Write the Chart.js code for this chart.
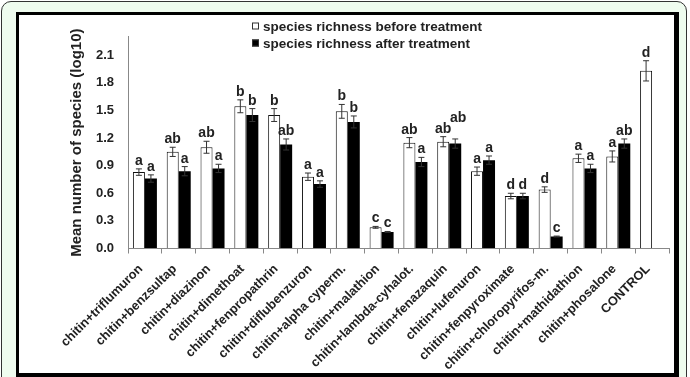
<!DOCTYPE html>
<html>
<head>
<meta charset="utf-8">
<script src="https://cdn.jsdelivr.net/npm/chart.js@4.4.0/dist/chart.umd.min.js"></script>
<style>
  html, body { margin: 0; padding: 0; background: #fff; overflow: hidden; }
  #frame {
    position: absolute; left: 1px; top: 1px; width: 684px; height: 420px;
    border: 1.5px solid #333; border-radius: 10px; background: #effcef;
  }
  #box {
    position: absolute; left: 16px; top: 12px; width: 655px; height: 358px;
    border: 3px solid #000; border-right-width: 5px; border-bottom-width: 4px;
    background: #fff;
  }
  canvas { display: block; }
</style>
</head>
<body>
<div id="frame"></div>
<div id="box"><canvas id="richChart" width="655" height="358"></canvas></div>
<script>
const categories = [
  'chitin+triflumuron', 'chitin+benzsultap', 'chitin+diazinon', 'chitin+dimethoat',
  'chitin+fenpropathrin', 'chitin+diflubenzuron', 'chitin+alpha cyperm.', 'chitin+malathion',
  'chitin+lambda-cyhalot.', 'chitin+fenazaquin', 'chitin+lufenuron', 'chitin+fenpyroximate',
  'chitin+chloropyrifos-m.', 'chitin+mathidathion', 'chitin+phosalone', 'CONTROL'
];
const richnessBefore = [0.83, 1.05, 1.10, 1.545, 1.45, 0.78, 1.49, 0.23, 1.15, 1.16, 0.84, 0.57, 0.64, 0.98, 1.00, 1.93];
const richnessAfter  = [0.76, 0.84, 0.87, 1.45, 1.13, 0.70, 1.375, 0.18, 0.94, 1.14, 0.96, 0.57, 0.13, 0.87, 1.14, null];
const errBefore = [0.035, 0.05, 0.065, 0.07, 0.07, 0.04, 0.075, 0.01, 0.055, 0.055, 0.045, 0.03, 0.03, 0.045, 0.06, 0.11];
const errAfter  = [0.04, 0.05, 0.045, 0.07, 0.06, 0.035, 0.065, 0.005, 0.05, 0.05, 0.045, 0.03, 0.005, 0.045, 0.05, null];
const lettersBefore = ['a', 'ab', 'ab', 'b', 'b', 'a', 'b', 'c', 'ab', 'ab', 'a', 'd', 'd', 'a', 'a', 'd'];
const lettersAfter  = ['a', 'a', 'a', 'b', 'ab', 'a', 'b', 'c', 'a', 'ab', 'a', 'd', 'c', 'a', 'ab', ''];
const yTicks = [0, 0.3, 0.6, 0.9, 1.2, 1.5, 1.8, 2.1];

const FONT = 'Liberation Sans, Arial, sans-serif';
const TEXT = '#222';

// error bars + significance letters above each bar
const errorLetters = {
  id: 'errorLetters',
  afterDatasetsDraw(chart) {
    const ctx = chart.ctx;
    const y = chart.scales.y;
    const errs = [errBefore, errAfter];
    const boxes = [[], []];
    ctx.save();
    chart.data.datasets.forEach((ds, d) => {
      const meta = chart.getDatasetMeta(d);
      meta.data.forEach((bar, i) => {
        const v = ds.data[i];
        if (v == null) return;
        const e = errs[d][i] || 0;
        const top = y.getPixelForValue(v + e);
        const bot = y.getPixelForValue(v - e);
        ctx.strokeStyle = '#333';
        ctx.lineWidth = 1;
        ctx.beginPath();
        ctx.moveTo(bar.x, top); ctx.lineTo(bar.x, bot);
        ctx.moveTo(bar.x - 3, top); ctx.lineTo(bar.x + 3, top);
        ctx.moveTo(bar.x - 3, bot); ctx.lineTo(bar.x + 3, bot);
        ctx.stroke();
        boxes[d][i] = { x: bar.x, base: top - 4 };
      });
    });
    ctx.font = 'bold 14px ' + FONT;
    ctx.fillStyle = TEXT;
    ctx.textAlign = 'center';
    ctx.textBaseline = 'alphabetic';
    categories.forEach((c, i) => {
      const b = boxes[0][i], a = boxes[1][i];
      if (b && lettersBefore[i]) ctx.fillText(lettersBefore[i], b.x, b.base);
      if (a && lettersAfter[i]) {
        let base = a.base;
        if (b) {
          const wb = ctx.measureText(lettersBefore[i]).width;
          const wa = ctx.measureText(lettersAfter[i]).width;
          const overlapX = (a.x - wa / 2) < (b.x + wb / 2);
          if (overlapX && Math.abs(base - b.base) < 10) base = b.base - 11;
        }
        ctx.fillText(lettersAfter[i], a.x + (base !== a.base ? 3 : 0), base);
      }
    });
    ctx.restore();
  }
};

// two-line legend drawn inside the plot
const innerLegend = {
  id: 'innerLegend',
  afterDraw(chart) {
    const ctx = chart.ctx;
    const x0 = chart.chartArea.left + 124;
    const rows = [
      { text: 'species richness before treatment', fill: '#fff' },
      { text: 'species richness after treatment', fill: '#000' }
    ];
    ctx.save();
    ctx.font = 'bold 13.5px ' + FONT;
    ctx.textBaseline = 'middle';
    rows.forEach((r, k) => {
      const cy = 11 + k * 17;
      ctx.fillStyle = r.fill;
      ctx.fillRect(x0, cy - 3.5, 7, 7);
      ctx.strokeStyle = '#333';
      ctx.lineWidth = 1;
      ctx.strokeRect(x0 + 0.5, cy - 3, 6, 6);
      ctx.fillStyle = TEXT;
      ctx.fillText(r.text, x0 + 11, cy + 1);
    });
    ctx.restore();
  }
};

new Chart(document.getElementById('richChart'), {
  type: 'bar',
  data: {
    labels: categories,
    datasets: [
      {
        label: 'species richness before treatment',
        data: richnessBefore,
        backgroundColor: '#fff',
        borderColor: '#111',
        borderWidth: 1,
        categoryPercentage: 0.71,
        barPercentage: 1.0
      },
      {
        label: 'species richness after treatment',
        data: richnessAfter,
        backgroundColor: '#000',
        borderColor: '#000',
        borderWidth: 0,
        categoryPercentage: 0.71,
        barPercentage: 1.0
      }
    ]
  },
  options: {
    responsive: false,
    animation: false,
    layout: { padding: { left: 45, right: 5, top: 12.7, bottom: 0 } },
    plugins: {
      legend: { display: false },
      tooltip: { enabled: false }
    },
    scales: {
      x: {
        grid: { drawOnChartArea: false, drawTicks: true, tickLength: 5, offset: true, color: '#888' },
        border: { color: '#888', width: 1 },
        ticks: {
          autoSkip: false, maxRotation: 45, minRotation: 45, padding: 8, labelOffset: -4,
          color: TEXT, font: { family: FONT, size: 12.8, weight: 'bold' }
        },
        afterFit(scale) { scale.height = 124.5; }
      },
      y: {
        min: 0,
        max: 2.3,
        grid: { drawOnChartArea: false, drawTicks: false },
        border: { color: '#888', width: 1 },
        afterBuildTicks(scale) { scale.ticks = yTicks.map(v => ({ value: v })); },
        ticks: {
          padding: 14, color: TEXT,
          font: { family: FONT, size: 13, weight: 'bold' },
          callback: v => v.toFixed(1)
        },
        title: {
          display: true, text: 'Mean number of species (log10)',
          color: TEXT, padding: { top: 4, bottom: 0 },
          font: { family: FONT, size: 15, weight: 'bold' }
        },
        afterFit(scale) { scale.width = 64; }
      }
    }
  },
  plugins: [errorLetters, innerLegend]
});
</script>
</body>
</html>
